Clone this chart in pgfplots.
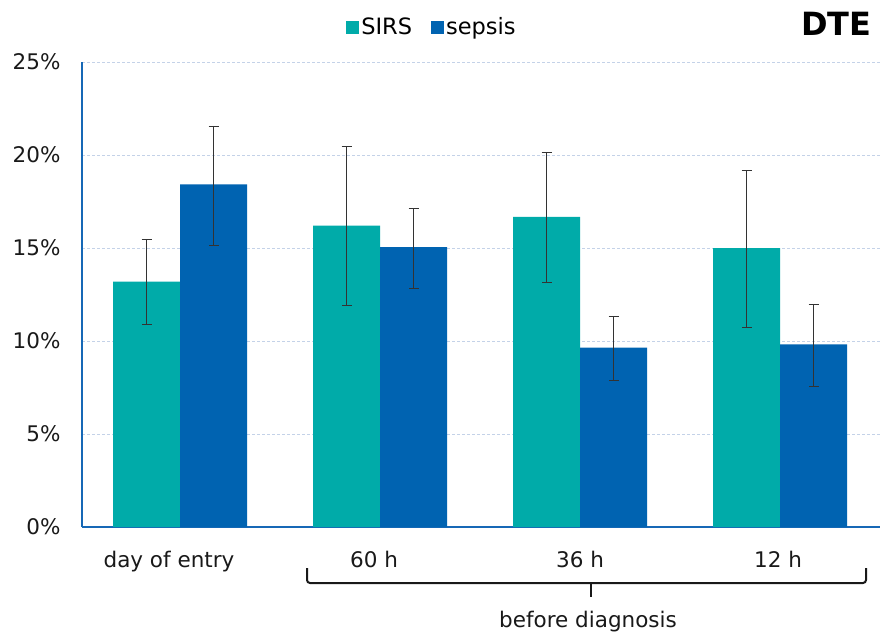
\documentclass[border=0pt]{standalone}
\usepackage{fontspec}
\setmainfont{DejaVu Sans}
\usepackage{pgfplots}
\pgfplotsset{compat=1.18}
\definecolor{sirs}{RGB}{0,171,169}
\definecolor{sepsis}{RGB}{0,99,177}
\definecolor{axisblue}{RGB}{22,104,182}
\definecolor{gridc}{RGB}{196,210,232}
\begin{document}
\begin{tikzpicture}[x=1pt,y=1pt]
\path[use as bounding box] (0,0) rectangle (880,633);
\begin{axis}[
  at={(82pt,106pt)}, anchor=south west,
  scale only axis, width=798pt, height=465pt,
  ybar=0pt, bar width=67pt,
  xmin=-0.49, xmax=3.5, ymin=0, ymax=25,
  axis x line*=bottom, axis y line*=left,
  axis line style={axisblue, line width=2.5pt, -},
  xtick={0,1,2,3},
  xticklabels={day of entry\hspace*{22pt}, 60 h\hspace*{12pt}, 36 h, 12 h\hspace*{4pt}},
  ytick={0,5,10,15,20,25},
  yticklabel={\pgfmathprintnumber{\tick}\%},
  /pgf/number format/assume math mode=true,
  major tick length=0pt,
  tick label style={font=\fontsize{21.5}{26}\selectfont, black!90},
  xticklabel style={yshift=-21pt},
  yticklabel style={xshift=-18pt},
  ymajorgrids,
  grid style={gridc, dash pattern=on 3pt off 2pt, line width=0.8pt},
  legend style={at={(0.4386,1.075)}, anchor=center, draw=none, fill=none,
    font=\fontsize{22.5}{26}\selectfont, legend columns=2,
    /tikz/every even column/.append style={column sep=17pt}},
  legend image code/.code={\fill[#1] (0pt,-6.5pt) rectangle (13pt,6.5pt);},
  error bars/error bar style={line width=0.9pt, black!80},
  error bars/error mark options={rotate=90, line width=0.9pt, black!80, mark size=5pt},
]
\addplot+[fill=sirs, draw=none, error bars/.cd, y dir=both, y explicit]
  coordinates {
  (0,13.19) += (0,2.28) -= (0,2.29)
  (1,16.20) += (0,4.27) -= (0,4.30)
  (2,16.68) += (0,3.48) -= (0,3.51)
  (3,15.00) += (0,4.19) -= (0,4.25)
  };
\addplot+[fill=sepsis, draw=none, error bars/.cd, y dir=both, y explicit]
  coordinates {
  (0,18.42) += (0,3.14) -= (0,3.26)
  (1,15.05) += (0,2.10) -= (0,2.25)
  (2,9.64) += (0,1.67) -= (0,1.77)
  (3,9.82) += (0,2.15) -= (0,2.24)
  };
\legend{SIRS, sepsis}
\end{axis}
\node[anchor=east, font=\bfseries\fontsize{32}{36}\selectfont] at (875,609) {DTE};
\draw[line width=2pt, black!90, rounded corners=3pt] (307,65) -- (307,50) -- (866,50) -- (866,65);
\draw[line width=2pt, black!90] (591,50) -- (591,36);
\node[font=\fontsize{21.5}{26}\selectfont, black!90] at (588,11) {before diagnosis};
\end{tikzpicture}
\end{document}
